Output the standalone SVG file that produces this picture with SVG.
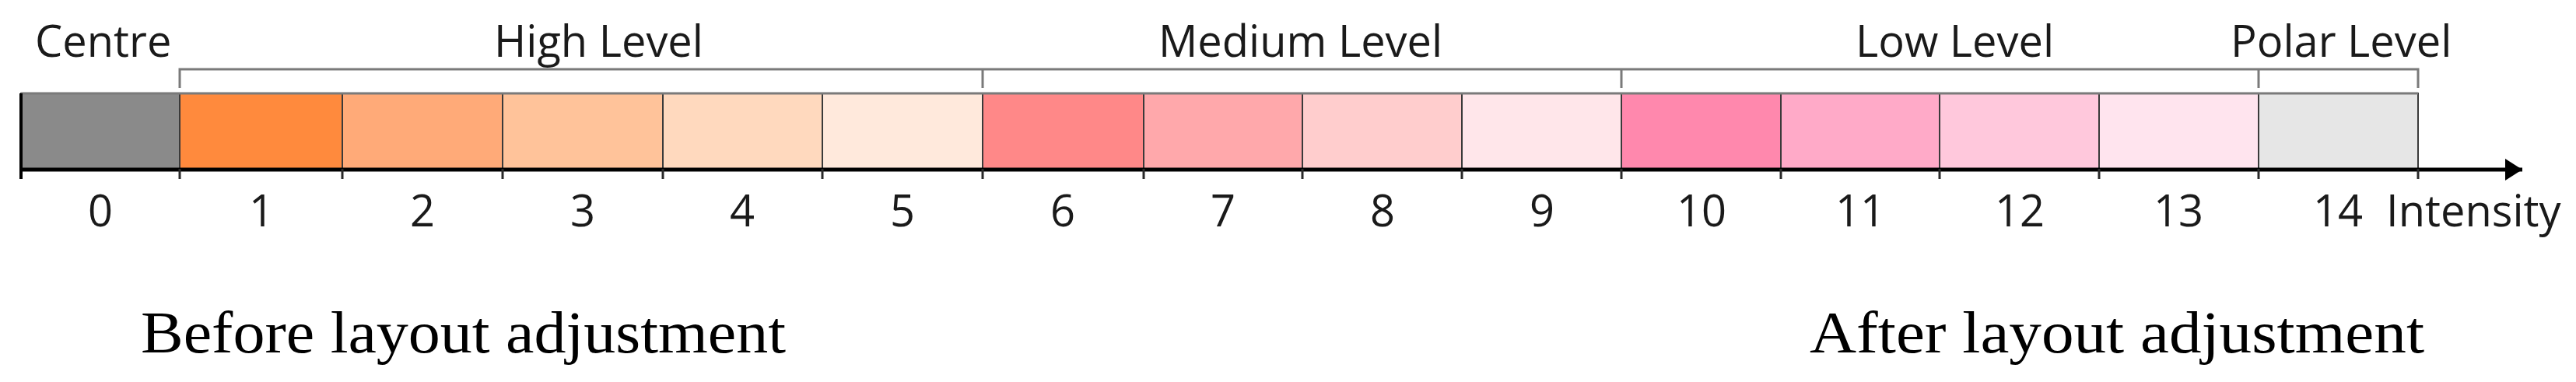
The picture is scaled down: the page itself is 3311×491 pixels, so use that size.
<svg xmlns="http://www.w3.org/2000/svg" width="3311" height="491" viewBox="0 0 3311 491">
<style>
.lbl{font-family:"Open Sans","Noto Sans",sans-serif;font-size:56px;fill:#1a1a1a}
.num{font-family:"Open Sans","Noto Sans",sans-serif;font-size:56px;fill:#1a1a1a;text-anchor:middle}
.cap{font-family:"Liberation Serif","DejaVu Serif",serif;font-size:76px;fill:#000}
.cell{stroke:#3a3a3a;stroke-width:2}
.brk{stroke:#7a7a7a;stroke-width:3;fill:none}
.tick{stroke:#2a2a2a;stroke-width:3}
</style>
<defs>
<marker id="arr" markerWidth="22" markerHeight="28" refX="22" refY="14" orient="auto" markerUnits="userSpaceOnUse" viewBox="0 0 22 28">
<path d="M0,0 L22,14 L0,28 Z" fill="#000"/>
</marker>
</defs>
<rect width="3311" height="491" fill="#fff"/>
<g id="cell0"><rect class="cell" x="27" y="120" width="204" height="97" fill="#8a8a8a"/><text class="num" x="129" y="291">0</text></g>
<g id="cell1"><rect class="cell" x="231" y="120" width="209" height="97" fill="#ff8a3d"/><text class="num" x="336" y="291">1</text></g>
<g id="cell2"><rect class="cell" x="440" y="120" width="206" height="97" fill="#ffaa78"/><text class="num" x="543" y="291">2</text></g>
<g id="cell3"><rect class="cell" x="646" y="120" width="206" height="97" fill="#ffc39a"/><text class="num" x="749" y="291">3</text></g>
<g id="cell4"><rect class="cell" x="852" y="120" width="205" height="97" fill="#ffd9be"/><text class="num" x="954" y="291">4</text></g>
<g id="cell5"><rect class="cell" x="1057" y="120" width="206" height="97" fill="#ffe9dc"/><text class="num" x="1160" y="291">5</text></g>
<g id="cell6"><rect class="cell" x="1263" y="120" width="207" height="97" fill="#ff8888"/><text class="num" x="1366" y="291">6</text></g>
<g id="cell7"><rect class="cell" x="1470" y="120" width="204" height="97" fill="#ffa8ab"/><text class="num" x="1572" y="291">7</text></g>
<g id="cell8"><rect class="cell" x="1674" y="120" width="205" height="97" fill="#ffcdcd"/><text class="num" x="1777" y="291">8</text></g>
<g id="cell9"><rect class="cell" x="1879" y="120" width="205" height="97" fill="#ffe6ea"/><text class="num" x="1982" y="291">9</text></g>
<g id="cell10"><rect class="cell" x="2084" y="120" width="205" height="97" fill="#ff88ad"/><text class="num" x="2187" y="291">10</text></g>
<g id="cell11"><rect class="cell" x="2289" y="120" width="204" height="97" fill="#ffaac8"/><text class="num" x="2391" y="291">11</text></g>
<g id="cell12"><rect class="cell" x="2493" y="120" width="205" height="97" fill="#ffc8dc"/><text class="num" x="2596" y="291">12</text></g>
<g id="cell13"><rect class="cell" x="2698" y="120" width="205" height="97" fill="#ffe4ee"/><text class="num" x="2800" y="291">13</text></g>
<g id="cell14"><rect class="cell" x="2903" y="120" width="205" height="97" fill="#e6e6e6"/><text class="num" x="3005" y="291">14</text></g>
<g id="labels">
<text class="lbl" x="45" y="73">Centre</text>
<text class="lbl" x="635" y="73">High Level</text>
<text class="lbl" x="1489" y="73">Medium Level</text>
<text class="lbl" x="2385" y="73">Low Level</text>
<text class="lbl" x="2867" y="73">Polar Level</text>
<text class="lbl" x="3067" y="291">Intensity</text>
</g>
<g id="connectors">
<line x1="27" y1="120" x2="3108" y2="120" stroke="#7a7a7a" stroke-width="3"/>
<line x1="27" y1="218" x2="3242" y2="218" stroke="#000" stroke-width="5" marker-end="url(#arr)"/>
<line x1="27" y1="120" x2="27" y2="230" stroke="#000" stroke-width="4"/>
<g class="tick">
<line x1="231" y1="217" x2="231" y2="230"/><line x1="440" y1="217" x2="440" y2="230"/><line x1="646" y1="217" x2="646" y2="230"/><line x1="852" y1="217" x2="852" y2="230"/><line x1="1057" y1="217" x2="1057" y2="230"/><line x1="1263" y1="217" x2="1263" y2="230"/><line x1="1470" y1="217" x2="1470" y2="230"/><line x1="1674" y1="217" x2="1674" y2="230"/><line x1="1879" y1="217" x2="1879" y2="230"/><line x1="2084" y1="217" x2="2084" y2="230"/><line x1="2289" y1="217" x2="2289" y2="230"/><line x1="2493" y1="217" x2="2493" y2="230"/><line x1="2698" y1="217" x2="2698" y2="230"/><line x1="2903" y1="217" x2="2903" y2="230"/><line x1="3108" y1="217" x2="3108" y2="230"/>
</g>
<path class="brk" d="M231,113 V89 H3108 V113 M1263,89 V113 M2084,89 V113 M2903,89 V113"/>
</g>
<g id="captions">
<text class="cap" x="181" y="453" textLength="829" lengthAdjust="spacingAndGlyphs">Before layout adjustment</text>
<text class="cap" x="2326" y="453" textLength="790" lengthAdjust="spacingAndGlyphs">After layout adjustment</text>
</g>
</svg>
